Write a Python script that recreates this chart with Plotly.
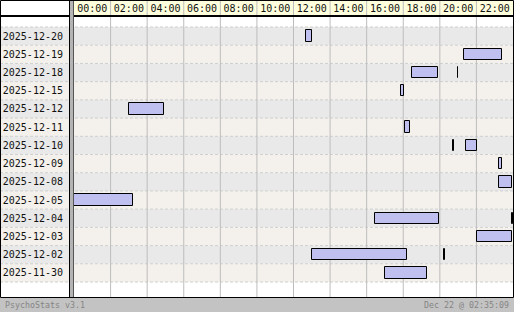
import plotly.graph_objects as go

W, H = 514, 312

# ---- data ----
dates = ["2025-12-20", "2025-12-19", "2025-12-18", "2025-12-15", "2025-12-12",
         "2025-12-11", "2025-12-10", "2025-12-09", "2025-12-08", "2025-12-05",
         "2025-12-04", "2025-12-03", "2025-12-02", "2025-11-30"]
hour_labels = ["00:00", "02:00", "04:00", "06:00", "08:00", "10:00",
               "12:00", "14:00", "16:00", "18:00", "20:00", "22:00"]
seg_day = ["2025-12-20", "2025-12-19", "2025-12-18", "2025-12-18", "2025-12-15",
           "2025-12-12", "2025-12-11", "2025-12-10", "2025-12-10", "2025-12-09",
           "2025-12-08", "2025-12-05", "2025-12-04", "2025-12-04", "2025-12-03",
           "2025-12-02", "2025-12-02", "2025-11-30"]
seg_start = [12.70, 21.34, 18.50, 21.00, 17.90, 3.03, 18.11, 20.73, 21.45, 23.25,
             23.25, 0.00, 16.48, 23.96, 22.05, 13.03, 20.24, 17.02]
seg_end = [13.00, 23.38, 19.89, 21.02, 18.02, 4.90, 18.35, 20.78, 22.02, 23.38,
           23.93, 3.21, 19.94, 24.00, 23.93, 18.19, 20.26, 19.28]

# ---- layout geometry (pixels) ----
PX_L, PX_R = 74, 513          # plot area left/right
PX_T, PX_B = 17, 297          # plot area top/bottom
ROW_T, ROW_B = 27, 282        # first row top / last row bottom
n = len(dates)
rh = (ROW_B - ROW_T) / n
y_top = -0.5 - (ROW_T - PX_T) / rh
y_bot = (n - 0.5) + (PX_B - ROW_B) / rh

FONT = "DejaVu Sans Mono"


def py(p):  # pixel y from top -> paper
    return 1 - p / H


def px(p):
    return p / W


row_idx = {d: i for i, d in enumerate(dates)}
ys = [row_idx[d] for d in seg_day]
durs = [e - s for s, e in zip(seg_start, seg_end)]

fig = go.Figure()
fig.add_trace(go.Bar(
    y=ys, x=durs, base=seg_start, orientation="h", width=0.63,
    marker=dict(color="#c0c0f0", line=dict(color="black", width=1)),
    hoverinfo="skip", showlegend=False,
))

shapes = []
# row backgrounds (span label column too)
for i in range(n):
    shapes.append(dict(type="rect", xref="paper", yref="y", x0=0, x1=1,
                       y0=i - 0.5, y1=i + 0.5, layer="below",
                       fillcolor="#e9e9e9" if i % 2 == 0 else "#f4f1ec",
                       line=dict(width=0)))
# dashed separators between rows
for i in range(n + 1):
    shapes.append(dict(type="line", xref="paper", yref="y", x0=0, x1=1,
                       y0=i - 0.5, y1=i - 0.5, layer="below",
                       line=dict(color="#cfcfcf", width=1, dash="3px,2px")))
# header background
shapes.append(dict(type="rect", xref="paper", yref="paper", x0=px(PX_L), x1=px(PX_R),
                   y0=py(15), y1=1, layer="below", fillcolor="#ffffdd",
                   line=dict(width=0)))
# vertical grid lines (plot + header)
for h in range(2, 24, 2):
    shapes.append(dict(type="line", xref="x", yref="paper", x0=h, x1=h,
                       y0=py(PX_B), y1=1, layer="below",
                       line=dict(color="#bdbdbd", width=1)))
# header bottom rule
shapes.append(dict(type="rect", xref="paper", yref="paper", x0=0, x1=1,
                   y0=py(17), y1=py(15), fillcolor="black", line=dict(width=0)))
# separator between labels and plot
shapes.append(dict(type="rect", xref="paper", yref="paper", x0=px(69), x1=px(70),
                   y0=py(PX_B), y1=1, fillcolor="black", line=dict(width=0)))
shapes.append(dict(type="rect", xref="paper", yref="paper", x0=px(70), x1=px(73),
                   y0=py(PX_B), y1=1, fillcolor="#b4b4b4", line=dict(width=0)))
shapes.append(dict(type="rect", xref="paper", yref="paper", x0=px(73), x1=px(74),
                   y0=py(PX_B), y1=1, fillcolor="#555555", line=dict(width=0)))
# footer
shapes.append(dict(type="rect", xref="paper", yref="paper", x0=0, x1=1,
                   y0=0, y1=py(298), fillcolor="#c3c3c3", line=dict(width=0)))
# outer border
shapes.append(dict(type="rect", xref="paper", yref="paper", x0=px(0.5), x1=px(513.5),
                   y0=py(297.5), y1=py(0.5), line=dict(color="black", width=1)))

fig.update_layout(
    width=W, height=H, margin=dict(l=0, r=0, t=0, b=0),
    paper_bgcolor="white", plot_bgcolor="white",
    barmode="overlay", bargap=0,
    shapes=shapes,
    font=dict(family=FONT, size=10, color="black"),
    xaxis=dict(domain=[px(PX_L), px(PX_R)], range=[0, 24], side="top",
               tickvals=[2 * k + 1 for k in range(12)], ticktext=hour_labels,
               showgrid=False, zeroline=False, showline=False, ticks="",
               ticklabelstandoff=2, fixedrange=True,
               tickfont=dict(family=FONT, size=10, color="#111111")),
    yaxis=dict(domain=[py(PX_B), py(PX_T)], range=[y_bot, y_top],
               tickvals=list(range(n)), ticktext=dates,
               showgrid=False, zeroline=False, showline=False, ticks="",
               ticklabelstandoff=10, fixedrange=True,
               tickfont=dict(family=FONT, size=10, color="#111111")),
    annotations=[
        dict(text="PsychoStats v3.1", xref="paper", yref="paper", x=px(3), y=py(305),
             xanchor="left", yanchor="middle", showarrow=False,
             font=dict(family=FONT, size=8.3, color="#858585")),
        dict(text="Dec 22 @ 02:35:09", xref="paper", yref="paper", x=px(511), y=py(305),
             xanchor="right", yanchor="middle", showarrow=False,
             font=dict(family=FONT, size=8.3, color="#858585")),
    ],
)

fig.write_html("out.html")
